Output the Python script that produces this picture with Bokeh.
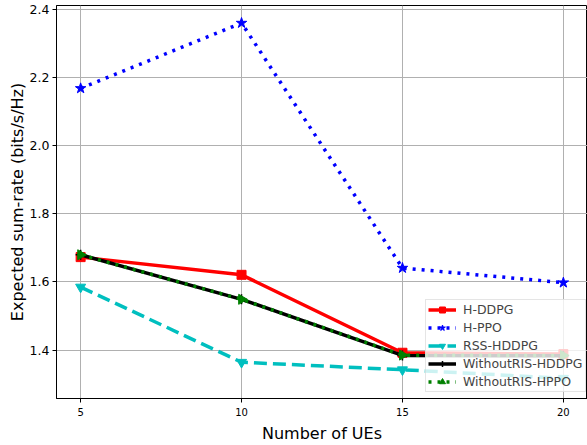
import math
from bokeh.plotting import figure
from bokeh.models import Range1d, FixedTicker, Legend, LegendItem, NumeralTickFormatter
from bokeh.embed import file_html
from bokeh.resources import INLINE

num_ues = [5, 10, 15, 20]
h_ddpg = [1.673, 1.621, 1.392, 1.388]
h_ppo = [2.169, 2.361, 1.641, 1.598]
rss_hddpg = [1.585, 1.364, 1.342, 1.317]
without_ris_hddpg = [1.680, 1.549, 1.384, 1.383]
without_ris_hppo = [1.680, 1.549, 1.385, 1.384]

y_ticks = [1.4, 1.6, 1.8, 2.0, 2.2, 2.4]
x_ticks = [5, 10, 15, 20]

FONT = "DejaVu Sans"

p = figure(width=587, height=445, output_backend="svg", toolbar_location=None,
           x_range=Range1d(4.25, 20.75), y_range=Range1d(1.2575, 2.4125),
           min_border_left=56, min_border_right=0, min_border_top=5, min_border_bottom=46)

p.outline_line_color = "black"
p.outline_line_width = 1
p.background_fill_color = "white"
p.border_fill_color = "white"

for ax in (p.xaxis[0], p.yaxis[0]):
    ax.axis_line_color = "black"
    ax.major_tick_line_color = "black"
    ax.major_tick_out = 4
    ax.major_tick_in = 0
    ax.minor_tick_line_color = None
    ax.major_label_text_font = FONT
    ax.major_label_text_color = "black"
    ax.axis_label_text_font = FONT
    ax.axis_label_text_font_size = "16px"
    ax.axis_label_text_font_style = "normal"
    ax.axis_label_text_color = "black"

p.xaxis[0].major_label_text_font_size = "10px"
p.yaxis[0].major_label_text_font_size = "12.5px"
p.xaxis[0].major_label_standoff = 5
p.yaxis[0].major_label_standoff = 3

p.xaxis[0].ticker = FixedTicker(ticks=x_ticks)
p.yaxis[0].ticker = FixedTicker(ticks=y_ticks)
p.yaxis[0].formatter = NumeralTickFormatter(format="0.0")
p.xaxis[0].axis_label = "Number of UEs"
p.yaxis[0].axis_label = "Expected sum-rate (bits/s/Hz)"
p.xaxis[0].axis_label_standoff = 5
p.yaxis[0].axis_label_standoff = 0

p.xgrid.grid_line_color = "#b0b0b0"
p.ygrid.grid_line_color = "#b0b0b0"
p.xgrid.grid_line_width = 1
p.ygrid.grid_line_width = 1
p.xgrid.ticker = FixedTicker(ticks=x_ticks)
p.ygrid.ticker = FixedTicker(ticks=y_ticks)

items = []

l1 = p.line(num_ues, h_ddpg, line_color="red", line_width=3.5)
s1 = p.scatter(num_ues, h_ddpg, marker="square", size=9, fill_color="red", line_color="red")
items.append(LegendItem(label="H-DDPG", renderers=[l1, s1]))

l2 = p.line(num_ues, h_ppo, line_color="blue", line_width=3.5, line_dash="3 6")
s2 = p.scatter(num_ues, h_ppo, marker="star", size=11, fill_color="blue", line_color="blue")
items.append(LegendItem(label="H-PPO", renderers=[l2, s2]))

l3 = p.line(num_ues, rss_hddpg, line_color="#00bfbf", line_width=3.5, line_dash="13 6")
s3 = p.scatter(num_ues, rss_hddpg, marker="inverted_triangle", size=10, fill_color="#00bfbf", line_color="#00bfbf")
items.append(LegendItem(label="RSS-HDDPG", renderers=[l3, s3]))

l4 = p.line(num_ues, without_ris_hddpg, line_color="black", line_width=3.5)
s4 = p.scatter(num_ues, without_ris_hddpg, marker="cross", size=10, fill_color=None, line_color="black", line_width=1.5)
items.append(LegendItem(label="WithoutRIS-HDDPG", renderers=[l4, s4]))

l5 = p.line(num_ues, without_ris_hppo, line_color="green", line_width=3.5, line_dash="3 6")
s5 = p.scatter(num_ues, without_ris_hppo, marker="triangle", angle=-math.pi / 2, size=10,
               fill_color="green", line_color="green")
items.append(LegendItem(label="WithoutRIS-HPPO", renderers=[l5, s5]))

legend = Legend(items=items, location=(369, 6), margin=0, padding=2, spacing=3,
                glyph_width=28, glyph_height=15, label_height=15, label_standoff=7,
                label_width=120,
                label_text_font=FONT, label_text_font_size="12.5px",
                border_line_color="#cccccc", border_line_width=1,
                background_fill_color="white", background_fill_alpha=0.8)
p.add_layout(legend, "center")

open("out.html", "w").write(file_html(p, INLINE))
